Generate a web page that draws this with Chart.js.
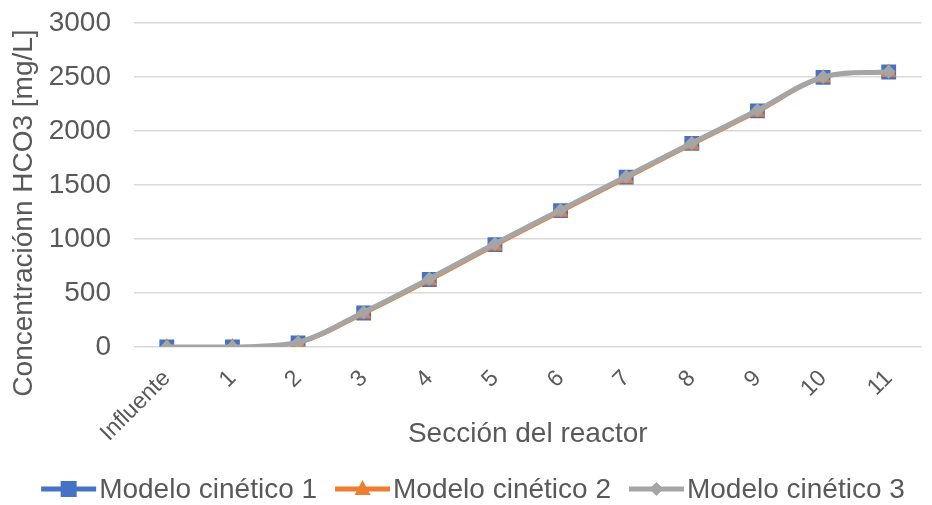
<!DOCTYPE html>
<html>
<head>
<meta charset="utf-8">
<script src="https://cdn.jsdelivr.net/npm/chart.js@4/dist/chart.umd.min.js"></script>
<style>
  html, body { margin: 0; padding: 0; background: #fff; }
  #wrap { width: 932px; height: 505px; }
</style>
</head>
<body>
<div id="wrap"><canvas id="c" width="932" height="505"></canvas></div>
<script>
const categories = ['Influente', '1', '2', '3', '4', '5', '6', '7', '8', '9', '10', '11'];
const modelo1 = [0, 0, 38, 315, 625, 948, 1262, 1572, 1884, 2185, 2495, 2545];
const modelo2 = [0, 0, 32, 305, 612, 935, 1248, 1558, 1870, 2172, 2490, 2540];
const modelo3 = [0, 0, 42, 322, 632, 955, 1268, 1578, 1888, 2190, 2498, 2546];
const seriesNames = ['Modelo cinético 1', 'Modelo cinético 2', 'Modelo cinético 3'];
const yTicks = [0, 500, 1000, 1500, 2000, 2500, 3000];
const yTitle = 'Concentraciónn HCO3 [mg/L]';
const xTitle = 'Sección del reactor';

const FONT = "'Liberation Sans', Arial, sans-serif";
const TEXT = '#595959';

const styles = [
  { color: '#4472C4', point: 'rect', radius: 10.5, width: 3 },
  { color: '#ED7D31', point: 'triangle', radius: 9, width: 3 },
  { color: '#A5A5A5', point: 'rectRot', radius: 7, width: 5 }
];
const values = [modelo1, modelo2, modelo3];

const datasets = values.map((v, i) => ({
  label: seriesNames[i],
  data: v,
  order: 3 - i,
  borderColor: styles[i].color,
  backgroundColor: styles[i].color,
  pointBackgroundColor: styles[i].color,
  pointBorderColor: styles[i].color,
  pointBorderWidth: 0,
  pointStyle: styles[i].point,
  pointRadius: styles[i].radius,
  borderWidth: styles[i].width,
  tension: 0.35
}));

// Rotated y-axis title and bottom legend (line + marker swatches)
const decorations = {
  id: 'decorations',
  afterDraw(chart) {
    const ctx = chart.ctx;
    ctx.save();
    ctx.fillStyle = TEXT;
    ctx.font = `28px ${FONT}`;
    ctx.textAlign = 'center';
    ctx.textBaseline = 'middle';
    ctx.translate(24, 213);
    ctx.rotate(-Math.PI / 2);
    ctx.fillText(yTitle, 0, 0);
    ctx.restore();

    ctx.save();
    ctx.font = `28px ${FONT}`;
    ctx.textBaseline = 'middle';
    ctx.textAlign = 'left';
    const swW = 55, gapText = 3, gapItem = 18, cy = 489;
    const widths = chart.data.datasets.map(d => ctx.measureText(d.label).width);
    const total = widths.reduce((a, w) => a + swW + gapText + w, 0) + gapItem * (widths.length - 1);
    let x = 473 - total / 2;
    chart.data.datasets.forEach((d, i) => {
      const col = d.borderColor;
      ctx.strokeStyle = col; ctx.fillStyle = col; ctx.lineWidth = 5;
      ctx.beginPath(); ctx.moveTo(x, cy); ctx.lineTo(x + swW, cy); ctx.stroke();
      const mx = x + swW / 2;
      ctx.beginPath();
      if (d.pointStyle === 'rect') ctx.rect(mx - 8, cy - 8, 16, 16);
      else if (d.pointStyle === 'triangle') { ctx.moveTo(mx, cy - 9); ctx.lineTo(mx + 8, cy + 6); ctx.lineTo(mx - 8, cy + 6); ctx.closePath(); }
      else { ctx.moveTo(mx, cy - 7); ctx.lineTo(mx + 7, cy); ctx.lineTo(mx, cy + 7); ctx.lineTo(mx - 7, cy); ctx.closePath(); }
      ctx.fill();
      ctx.fillStyle = TEXT;
      ctx.fillText(d.label, x + swW + gapText, cy + 1);
      x += swW + gapText + widths[i] + gapItem;
    });
    ctx.restore();
  }
};

new Chart(document.getElementById('c'), {
  type: 'line',
  data: { labels: categories, datasets },
  plugins: [decorations],
  options: {
    responsive: false,
    animation: false,
    layout: { padding: { left: 0, right: 7, top: 0, bottom: 40 } },
    plugins: {
      tooltip: { enabled: false },
      legend: { display: false }
    },
    scales: {
      x: {
        offset: true,
        afterFit(scale) { scale.height = 118; },
        grid: { display: false },
        border: { display: false },
        ticks: {
          color: TEXT,
          font: { family: FONT, size: 23 },
          minRotation: 45, maxRotation: 45,
          padding: 10
        },
        title: {
          display: true,
          text: xTitle,
          color: TEXT,
          font: { family: FONT, size: 28 },
          padding: { top: 0, bottom: 14 }
        }
      },
      y: {
        min: 0, max: 3000,
        afterBuildTicks(scale) { scale.ticks = yTicks.map(v => ({ value: v })); },
        afterFit(scale) { scale.width = 134; },
        grid: {
          color: '#D9D9D9', lineWidth: 1.5,
          drawTicks: true, tickLength: 17, tickColor: 'rgba(0,0,0,0)'
        },
        border: { display: false },
        ticks: {
          color: TEXT,
          font: { family: FONT, size: 28 },
          padding: 6,
          callback: v => String(v)
        }
      }
    }
  }
});
</script>
</body>
</html>
